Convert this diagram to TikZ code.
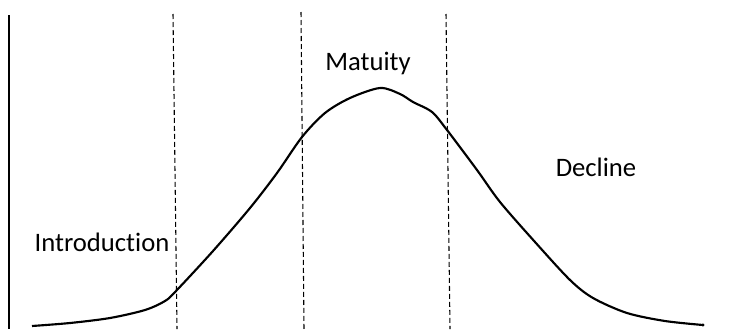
\documentclass[tikz,border=0pt]{standalone}
\usepackage{fontspec}
\setmainfont[Ligatures={NoCommon,NoRare,NoContextual}]{Carlito}
\usepackage{tikz}

\begin{document}
\begin{tikzpicture}[
		  x=0.75pt, y=-0.75pt,
		  every node/.style = {font=\fontsize{20}{24}\selectfont, inner sep=0pt},
		  stage/.style={draw, line width=0.8pt, dash pattern=on 3.75pt off 2.25pt},
		  curve/.style={draw, line width=1.6pt, line join=round}
		]
		  \useasboundingbox (0,0) rectangle (748,329);

		  % axis and stage borders
		  \draw[line width=0.9pt] (9,15) -- (9,329);
		  \draw[stage] (173,14) -- (177,329);
		  \draw[stage] (301,12) -- (304,329);
		  \draw[stage] (446,14) -- (450,329);

		  % life cycle curve
		  \draw[curve] plot[smooth, tension=0.5] coordinates {
			(32,326) (70,323) (110,318) (145,310) (165,301) (176,291)
			(213,251) (250,208) (277,173) (302,137) (325,113) (350,98)
			(380,88) (400,94) (413,102) (432,112) (447,130) (477,170)
			(500,202) (535,242) (570,280) (593,298) (627,313) (665,321) (703,325)};
		  \fill (703,325) circle (1.6);

		  \node (intro) at (102,242) {Introduction};
		  \node (maturity) at (368,63) {Matuity};
		  \node (decline) at (596,167) {Decline};
		\end{tikzpicture}
\end{document}
